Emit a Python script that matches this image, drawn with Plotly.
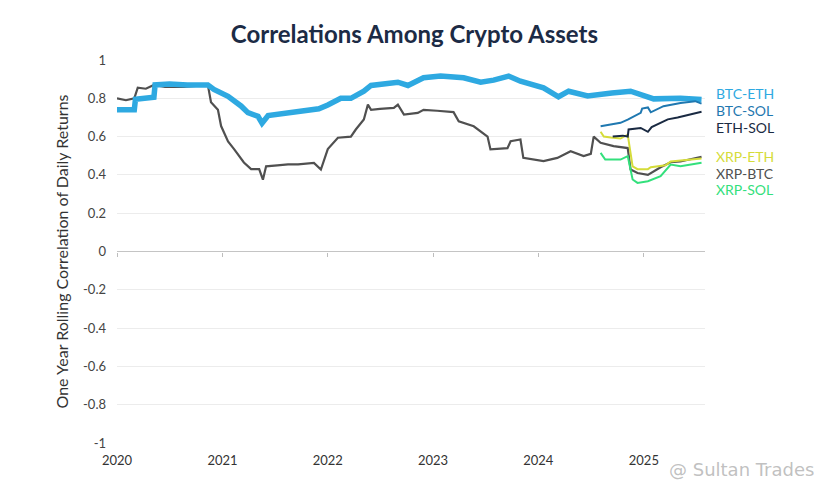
import plotly.graph_objects as go

# series (date, correlation)
xrp_btc_dates = ["2020-01-01", "2020-02-01", "2020-03-01", "2020-03-13", "2020-04-10", "2020-05-08",
                 "2020-06-15", "2020-08-20", "2020-10-01", "2020-11-11", "2020-11-22", "2020-12-16",
                 "2020-12-27", "2021-01-20", "2021-02-10", "2021-03-16", "2021-04-10", "2021-05-08",
                 "2021-05-21", "2021-06-01", "2021-07-10", "2021-08-16", "2021-09-20", "2021-11-14",
                 "2021-12-08", "2022-01-01", "2022-02-05", "2022-03-22", "2022-04-08", "2022-05-06",
                 "2022-05-20", "2022-05-31", "2022-07-01", "2022-08-18", "2022-09-01", "2022-09-22",
                 "2022-11-09", "2022-11-29", "2023-01-15", "2023-03-13", "2023-03-31", "2023-05-22",
                 "2023-07-09", "2023-07-19", "2023-09-16", "2023-09-27", "2023-10-31", "2023-11-10",
                 "2024-01-19", "2024-03-07", "2024-04-22", "2024-06-06", "2024-07-01", "2024-07-11",
                 "2024-08-04", "2024-09-18", "2024-11-06", "2024-11-16", "2024-12-10", "2025-01-15",
                 "2025-02-28", "2025-04-04", "2025-05-08", "2025-07-20"]
xrp_btc = [0.80, 0.79, 0.80, 0.855, 0.85, 0.87,
           0.86, 0.86, 0.865, 0.87, 0.78, 0.74,
           0.655, 0.575, 0.535, 0.465, 0.43, 0.43,
           0.375, 0.445, 0.45, 0.455, 0.455, 0.463,
           0.428, 0.535, 0.594, 0.60, 0.637, 0.689,
           0.767, 0.74, 0.745, 0.75, 0.767, 0.715,
           0.724, 0.74, 0.735, 0.728, 0.68, 0.654,
           0.60, 0.533, 0.54, 0.576, 0.585, 0.489,
           0.472, 0.489, 0.524, 0.498, 0.51, 0.60,
           0.568, 0.55, 0.54, 0.428, 0.41, 0.40,
           0.44, 0.466, 0.47, 0.495]

btc_eth_dates = ["2020-01-01", "2020-02-15", "2020-03-01", "2020-03-05", "2020-04-20", "2020-05-08",
                 "2020-05-12", "2020-07-01", "2020-09-01", "2020-11-11", "2020-12-02", "2021-01-20",
                 "2021-03-06", "2021-03-30", "2021-05-04", "2021-05-18", "2021-06-08", "2021-08-16",
                 "2021-10-24", "2021-12-01", "2022-01-01", "2022-02-15", "2022-03-22", "2022-05-06",
                 "2022-05-31", "2022-08-18", "2022-09-01", "2022-10-06", "2022-11-29", "2023-01-27",
                 "2023-04-17", "2023-06-15", "2023-07-30", "2023-09-20", "2023-10-31", "2024-01-19",
                 "2024-03-11", "2024-04-15", "2024-06-20", "2024-09-12", "2024-11-16", "2025-02-04",
                 "2025-05-08", "2025-07-20"]
btc_eth = [0.74, 0.735, 0.74, 0.795, 0.80, 0.805,
           0.87, 0.875, 0.87, 0.87, 0.846, 0.81,
           0.76, 0.725, 0.706, 0.67, 0.71, 0.725,
           0.738, 0.745, 0.765, 0.80, 0.80, 0.837,
           0.867, 0.88, 0.884, 0.867, 0.907, 0.916,
           0.907, 0.884, 0.895, 0.916, 0.889, 0.855,
           0.808, 0.837, 0.812, 0.828, 0.837, 0.797,
           0.80, 0.794]

btc_sol_dates = ["2024-08-04", "2024-10-12", "2024-11-06", "2024-12-21", "2024-12-26", "2025-01-15",
                 "2025-01-25", "2025-03-10", "2025-05-08", "2025-06-28", "2025-07-20"]
btc_sol = [0.654, 0.672, 0.689, 0.724, 0.746, 0.752,
           0.727, 0.759, 0.776, 0.785, 0.772]

eth_sol_dates = ["2024-09-15", "2024-10-20", "2024-11-06", "2024-11-09", "2024-12-21", "2025-01-15",
                 "2025-01-28", "2025-02-28", "2025-03-25", "2025-04-28", "2025-06-10", "2025-07-20"]
eth_sol = [0.60, 0.605, 0.60, 0.637, 0.645, 0.625,
           0.65, 0.67, 0.69, 0.70, 0.715, 0.73]

xrp_eth_dates = ["2024-08-04", "2024-08-15", "2024-09-08", "2024-10-12", "2024-11-06", "2024-11-23",
                 "2024-12-10", "2025-01-15", "2025-01-25", "2025-03-17", "2025-04-04", "2025-05-20",
                 "2025-07-20"]
xrp_eth = [0.625, 0.60, 0.595, 0.59, 0.61, 0.445,
           0.43, 0.43, 0.44, 0.45, 0.47, 0.475,
           0.485]

xrp_sol_dates = ["2024-08-04", "2024-08-20", "2024-10-12", "2024-11-06", "2024-11-23", "2024-12-10",
                 "2025-01-15", "2025-02-28", "2025-04-04", "2025-05-08", "2025-07-20"]
xrp_sol = [0.515, 0.48, 0.48, 0.498, 0.376, 0.358,
           0.367, 0.393, 0.454, 0.445, 0.463]

y_ticks = [1, 0.8, 0.6, 0.4, 0.2, 0, -0.2, -0.4, -0.6, -0.8, -1]
y_tick_text = ["1", "0.8", "0.6", "0.4", "0.2", "0", "-0.2", "-0.4", "-0.6", "-0.8", "-1"]
x_ticks = ["2020-01-01", "2021-01-01", "2022-01-01", "2023-01-01", "2024-01-01", "2025-01-01"]
x_tick_text = ["2020", "2021", "2022", "2023", "2024", "2025"]

labels = ["BTC-ETH", "BTC-SOL", "ETH-SOL", "XRP-ETH", "XRP-BTC", "XRP-SOL"]
label_y = [0.825, 0.736, 0.648, 0.496, 0.407, 0.324]
colors = {"BTC-ETH": "#2ea9e1", "BTC-SOL": "#1f78b0", "ETH-SOL": "#1a2a42",
          "XRP-ETH": "#d5dc3a", "XRP-BTC": "#505050", "XRP-SOL": "#33e07c"}

fig = go.Figure()
series = [("XRP-BTC", xrp_btc_dates, xrp_btc, 2.2),
          ("BTC-ETH", btc_eth_dates, btc_eth, 5.5),
          ("XRP-ETH", xrp_eth_dates, xrp_eth, 2),
          ("XRP-SOL", xrp_sol_dates, xrp_sol, 2),
          ("ETH-SOL", eth_sol_dates, eth_sol, 2),
          ("BTC-SOL", btc_sol_dates, btc_sol, 2)]
for name, d, v, w in series:
    fig.add_trace(go.Scatter(x=d, y=v, mode="lines", name=name,
                             line=dict(color=colors[name], width=w)))

# invisible trace so the zero-line tick axis is drawn
fig.add_trace(go.Scatter(x=["2020-01-01"], y=[0], xaxis="x2", mode="markers",
                         marker=dict(opacity=0), showlegend=False, hoverinfo="skip"))

for lab, ly in zip(labels, label_y):
    fig.add_annotation(x=1.017, xref="paper", y=ly, yref="y", text=lab, showarrow=False,
                       xanchor="left", borderpad=0,
                       font=dict(size=14, color=colors[lab], family="Lato"))

# watermark
fig.add_annotation(x=0.935, xref="paper", y=-0.07, yref="paper", text="@ Sultan Trades",
                   showarrow=False, xanchor="left", yanchor="middle",
                   font=dict(size=18, color="rgba(185,185,185,0.9)", family="DejaVu Sans"))

fig.update_layout(
    width=821, height=485,
    margin=dict(l=109, r=124, t=52, b=50, autoexpand=False),
    paper_bgcolor="white", plot_bgcolor="white",
    showlegend=False,
    font=dict(family="Lato", color="#333333"),
    title=dict(text="<b>Correlations Among Crypto Assets</b>", x=0.495, xanchor="center",
               y=0.945, yanchor="middle", font=dict(size=24, color="#1c2b45", family="Lato")),
    xaxis=dict(range=["2020-01-01", "2025-08-01"], tickvals=x_ticks, ticktext=x_tick_text,
               showgrid=False, zeroline=False, showline=False, ticks="",
               ticklabelstandoff=8, tickfont=dict(size=13, color="#333333")),
    xaxis2=dict(overlaying="x", matches="x", anchor="free", position=0.5, side="bottom",
                tickvals=x_ticks, showticklabels=False, ticks="outside", ticklen=4,
                tickcolor="#bdbdbd", showgrid=False, zeroline=False, showline=False),
    yaxis=dict(range=[-1, 1], tickvals=y_ticks, ticktext=y_tick_text,
               showgrid=True, gridcolor="#ececec", gridwidth=1,
               zeroline=True, zerolinecolor="#c4c4c4", zerolinewidth=1,
               ticks="", ticklabelstandoff=10, tickfont=dict(size=13, color="#444444"),
               title=dict(text="One Year Rolling Correlation of Daily Returns", standoff=10,
                          font=dict(size=16, color="#333333"))),
)

fig.write_html("out.html")
